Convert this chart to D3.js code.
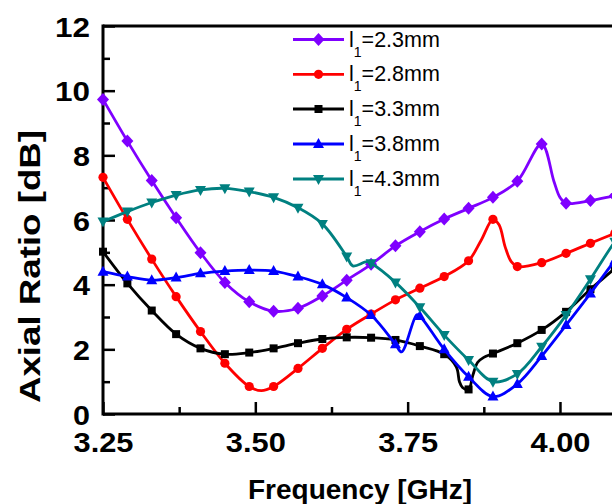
<!DOCTYPE html>
<html><head><meta charset="utf-8">
<script src="https://cdn.jsdelivr.net/npm/d3@7"></script>
<style>html,body{margin:0;padding:0;background:#fff;}svg{display:block;}</style>
</head><body>
<svg id="chart" width="612" height="504"></svg>
<script>
// ---------- data ----------
const seriesLabels = ["2.3mm", "2.8mm", "3.3mm", "3.8mm", "4.3mm"];
const seriesColors = ["#7F00FF", "#FF0000", "#000000", "#0000FF", "#008080"];
const seriesShapes = ["diamond", "circle", "square", "triangleUp", "triangleDown"];

const freq23 = [3.25,3.29,3.33,3.37,3.41,3.45,3.49,3.53,3.57,3.61,3.65,3.69,3.73,3.77,3.81,3.85,3.89,3.93,3.97,3.99,4.00,4.01,4.05,4.09,4.13];
const ar23   = [9.73,8.44,7.22,6.07,4.99,4.07,3.47,3.18,3.27,3.65,4.14,4.63,5.20,5.64,6.03,6.36,6.70,7.20,8.35,7.20,6.70,6.52,6.60,6.75,6.90];

const freq28 = [3.25,3.29,3.33,3.37,3.41,3.45,3.49,3.51,3.53,3.57,3.61,3.65,3.69,3.73,3.77,3.81,3.85,3.87,3.89,3.90,3.91,3.92,3.93,3.97,4.01,4.05,4.09,4.13];
const ar28   = [7.32,6.02,4.79,3.63,2.55,1.57,0.85,0.72,0.85,1.41,2.03,2.62,3.09,3.53,3.89,4.25,4.74,5.35,6.02,5.85,5.17,4.71,4.56,4.68,4.97,5.28,5.59,5.90];

const freq33 = [3.25,3.29,3.33,3.37,3.41,3.45,3.49,3.53,3.57,3.61,3.65,3.69,3.73,3.77,3.81,3.83,3.835,3.84,3.85,3.857,3.865,3.875,3.89,3.93,3.97,4.01,4.05,4.09,4.13];
const ar33   = [5.02,4.04,3.20,2.47,2.03,1.85,1.90,2.03,2.19,2.32,2.37,2.36,2.29,2.10,1.85,1.45,1.00,0.82,0.76,1.20,1.60,1.75,1.87,2.19,2.60,3.16,3.86,4.50,5.20];

const freq38 = [3.25,3.29,3.33,3.37,3.41,3.45,3.49,3.53,3.57,3.61,3.65,3.69,3.73,3.74,3.765,3.77,3.81,3.85,3.89,3.93,3.97,4.01,4.05,4.09,4.13];
const ar38   = [4.40,4.25,4.14,4.22,4.35,4.42,4.45,4.42,4.25,4.01,3.60,3.06,2.16,1.92,3.07,3.03,2.00,1.15,0.54,0.93,1.79,2.75,3.73,4.75,5.70];

const freq43 = [3.25,3.29,3.33,3.37,3.41,3.45,3.49,3.53,3.57,3.61,3.65,3.66,3.683,3.69,3.73,3.77,3.81,3.85,3.89,3.93,3.97,4.01,4.05,4.09,4.13];
const ar43   = [5.95,6.26,6.54,6.77,6.93,6.98,6.88,6.70,6.38,5.88,4.87,4.58,4.71,4.66,4.07,3.30,2.44,1.67,1.00,1.24,2.08,3.06,4.17,5.33,6.30];

const freqs = [freq23, freq28, freq33, freq38, freq43];
const ars   = [ar23, ar28, ar33, ar38, ar43];

const xMajor = [3.25, 3.50, 3.75, 4.00];
const xMinor = [3.375, 3.625, 3.875, 4.125];
const yMajor = [0, 2, 4, 6, 8, 10, 12];
const yMinor = [1, 3, 5, 7, 9, 11];

const xTitle = "Frequency [GHz]";
const yTitle = "Axial Ratio [dB]";

// ---------- layout ----------
const L = 103, T = 26, B = 414;
const svg = d3.select("#chart");
const x = d3.scaleLinear().domain([3.25, 4.25]).range([L, L + 609.3]);
const y = d3.scaleLinear().domain([0, 12]).range([B, T]);
const FONT = "'Liberation Sans', Arial, Helvetica, sans-serif";

// axes
const gx = svg.append("g").attr("transform", `translate(0,${B})`);
gx.call(d3.axisBottom(x).tickValues(xMinor).tickSize(-7).tickSizeOuter(0).tickFormat(""));
gx.selectAll(".tick line").attr("stroke-width", 2.5);
const gx2 = svg.append("g").attr("transform", `translate(0,${B})`);
gx2.call(d3.axisBottom(x).tickValues(xMajor).tickSize(-12).tickSizeOuter(0).tickFormat(d3.format(".2f")));
gx2.selectAll(".tick line").attr("stroke-width", 2.5);
gx2.selectAll(".tick text").attr("y", 38).attr("dy", 0)
  .attr("font-family", FONT).attr("font-weight", "bold").attr("font-size", 28)
  .attr("textLength", 60).attr("lengthAdjust", "spacingAndGlyphs").attr("fill", "#000");
[gx, gx2].forEach(g => g.select(".domain").remove());

const gy = svg.append("g").attr("transform", `translate(${L},0)`);
gy.call(d3.axisLeft(y).tickValues(yMinor).tickSize(-7).tickSizeOuter(0).tickFormat(""));
gy.selectAll(".tick line").attr("stroke-width", 2.5);
const gy2 = svg.append("g").attr("transform", `translate(${L},0)`);
gy2.call(d3.axisLeft(y).tickValues(yMajor).tickSize(-12).tickSizeOuter(0).tickFormat(d3.format("d")));
gy2.selectAll(".tick line").attr("stroke-width", 2.5);
gy2.selectAll(".tick text").attr("x", -13).attr("dy", 10)
  .attr("font-family", FONT).attr("font-weight", "bold").attr("font-size", 28)
  .attr("textLength", d => String(d).length > 1 ? 35 : 17).attr("lengthAdjust", "spacingAndGlyphs").attr("fill", "#000");
[gy, gy2].forEach(g => g.select(".domain").remove());

// frame lines
svg.append("line").attr("x1", L).attr("x2", 640).attr("y1", B).attr("y2", B).attr("stroke", "#000").attr("stroke-width", 3);
svg.append("line").attr("x1", L).attr("x2", 640).attr("y1", T).attr("y2", T).attr("stroke", "#000").attr("stroke-width", 3);
svg.append("line").attr("x1", L).attr("x2", L).attr("y1", T - 1.5).attr("y2", B + 1.5).attr("stroke", "#000").attr("stroke-width", 3);

// titles
svg.append("text").attr("x", 360).attr("y", 499).attr("text-anchor", "middle")
  .attr("font-family", FONT).attr("font-weight", "bold").attr("font-size", 28).text(xTitle);
svg.append("text").attr("transform", "translate(40,266.5) rotate(-90)").attr("text-anchor", "middle")
  .attr("font-family", FONT).attr("font-weight", "bold").attr("font-size", 30)
  .attr("textLength", 273).attr("lengthAdjust", "spacingAndGlyphs").text(yTitle);

// marker paths
function markerPath(shape) {
  switch (shape) {
    case "diamond": return "M0,-6.5L6,0L0,6.5L-6,0Z";
    case "circle": return d3.symbol(d3.symbolCircle, Math.PI * 4.6 * 4.6)();
    case "square": return "M-4,-4H4V4H-4Z";
    case "triangleUp": return "M0,-6L5.5,4L-5.5,4Z";
    case "triangleDown": return "M0,6L5.5,-4L-5.5,-4Z";
  }
}
const isMarker = f => { const k = (f - 3.25) / 0.04; return Math.abs(k - Math.round(k)) < 1e-6; };

const line = d3.line().x(d => x(d[0])).y(d => y(d[1])).curve(d3.curveCatmullRom.alpha(0.5));

for (let i = 0; i < freqs.length; i++) {
  const pts = freqs[i].map((f, j) => [f, ars[i][j]]);
  const g = svg.append("g");
  g.append("path").attr("d", line(pts)).attr("fill", "none")
    .attr("stroke", seriesColors[i]).attr("stroke-width", 2.8).attr("stroke-linejoin", "round");
  g.selectAll("path.m").data(pts.filter(p => isMarker(p[0]))).join("path").attr("class", "m")
    .attr("d", markerPath(seriesShapes[i]))
    .attr("transform", d => `translate(${x(d[0])},${y(d[1])})`)
    .attr("fill", seriesColors[i]);
}

// legend
const legY = [39.5, 74.3, 109, 144, 179];
seriesLabels.forEach((lab, i) => {
  const g = svg.append("g");
  g.append("line").attr("x1", 293).attr("x2", 344).attr("y1", legY[i]).attr("y2", legY[i])
    .attr("stroke", seriesColors[i]).attr("stroke-width", 2.8);
  g.append("path").attr("d", markerPath(seriesShapes[i]))
    .attr("transform", `translate(318.5,${legY[i]})`).attr("fill", seriesColors[i]);
  const t = g.append("text").attr("x", 349).attr("y", legY[i] + 7)
    .attr("font-family", FONT).attr("font-size", 21.5).attr("fill", "#000");
  t.append("tspan").text("l");
  t.append("tspan").attr("dy", 10).attr("font-size", 14).text("1");
  t.append("tspan").attr("dy", -10).text("=" + lab);
});
</script>
</body></html>
